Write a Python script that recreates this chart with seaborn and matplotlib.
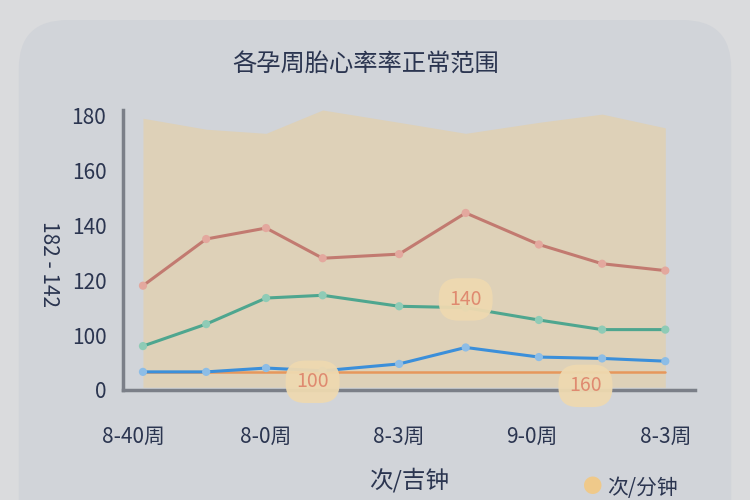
import seaborn as sns
import matplotlib.pyplot as plt
import pandas as pd
from matplotlib.patches import FancyBboxPatch

# chart values
weeks = [0.15, 1.1, 2.0, 2.85, 4.0, 5.0, 6.1, 7.05, 8.0]
upper = [118, 135, 139, 128, 129.5, 144.5, 133, 126, 123.5]
middle = [96, 104, 113.5, 114.5, 110.5, 110, 105.5, 102, 102]
lower = [86.6, 86.6, 88, 87, 89.5, 95.5, 92, 91.5, 90.5]
baseline = 86.6
band_top = [179, 175, 173.5, 182, 177.5, 173.5, 177.5, 180.5, 175.5]
band_bottom = 81

xtick_pos = [0, 2, 4, 6, 8]
xtick_labels = ["8-40周", "8-0周", "8-3周", "9-0周", "8-3周"]
ytick_pos = [80, 100, 120, 140, 160, 180]
ytick_labels = ["0", "100", "120", "140", "160", "180"]
bubbles = [(5.0, 113, "140"), (2.7, 83, "100"), (6.8, 81.5, "160")]

sns.set_theme(style="white")
plt.rcParams['font.family'] = ['Noto Sans CJK SC', 'DejaVu Sans']

df = pd.DataFrame({"week": weeks * 3,
                   "bpm": upper + middle + lower,
                   "line": ["upper"] * 9 + ["middle"] * 9 + ["lower"] * 9})
colors = {"upper": "#c27a70", "middle": "#4ea68f", "lower": "#3b8fda"}
dot_colors = {"upper": "#e3a89e", "middle": "#8fcbb6", "lower": "#8dbde6"}

fig = plt.figure(figsize=(7.5, 5), dpi=100, facecolor="#dadbdd")
fig.patches.append(FancyBboxPatch((0.025, -0.1), 0.95, 1.06, boxstyle="round,pad=0,rounding_size=0.065",
                                  transform=fig.transFigure, facecolor="#d1d4d9", edgecolor="none",
                                  mutation_aspect=1.5, zorder=-5))
ax = fig.add_axes([0.164, 0.22, 0.763, 0.56])
ax.set_zorder(2)
ax.set_facecolor("none")

ax.fill_between(weeks, band_bottom, band_top, color="#ded1b8", lw=0, zorder=1)
ax.plot([weeks[0], weeks[-1]], [baseline, baseline], color="#e6975c", lw=1.8, zorder=2)
sns.lineplot(data=df, x="week", y="bpm", hue="line", palette=colors, ax=ax, lw=2.2,
             legend=False, zorder=3)
sns.scatterplot(data=df, x="week", y="bpm", hue="line", palette=dot_colors, ax=ax, s=35,
                linewidth=0, legend=False, zorder=4)

for x, y, t in bubbles:
    ax.text(x, y, t, ha="center", va="center", fontsize=14, color="#df8a70", zorder=5,
            bbox=dict(boxstyle="round,pad=0.55,rounding_size=1.0", fc="#eed9b0", ec="none", alpha=0.95))

ax.set_xlim(-0.15, 8.45)
ax.set_ylim(80, 182)
ax.set_xticks(xtick_pos)
ax.set_xticklabels(xtick_labels, fontsize=15, color="#2b3550")
ax.set_yticks(ytick_pos)
ax.set_yticklabels(ytick_labels, fontsize=15, color="#2b3550")
ax.tick_params(axis="x", length=12, width=2.5, color="#7b7f88", pad=14)
ax.tick_params(axis="y", length=6, width=2.5, color="#7b7f88", pad=6)
for s in ["top", "right"]:
    ax.spines[s].set_visible(False)
for s in ["left", "bottom"]:
    ax.spines[s].set_color("#7b7f88")
    ax.spines[s].set_linewidth(2.5)
ax.set_xlabel("次/吉钟", fontsize=17, color="#2b3550", labelpad=14)
ax.set_ylabel("182 - 142", fontsize=15, color="#2b3550", rotation=-90, va="center")
ax.yaxis.set_label_coords(-0.13, 0.45)

fig.text(0.487, 0.87, "各孕周胎心率率正常范围", ha="center", va="center", fontsize=17.5, color="#2b3550")
fig.text(0.79, 0.024, "●", ha="center", va="center", fontsize=14, color="#efc98a")
fig.text(0.81, 0.024, "次/分钟", ha="left", va="center", fontsize=15, color="#2b3550")

fig.savefig("out.png", dpi=100, facecolor=fig.get_facecolor())
